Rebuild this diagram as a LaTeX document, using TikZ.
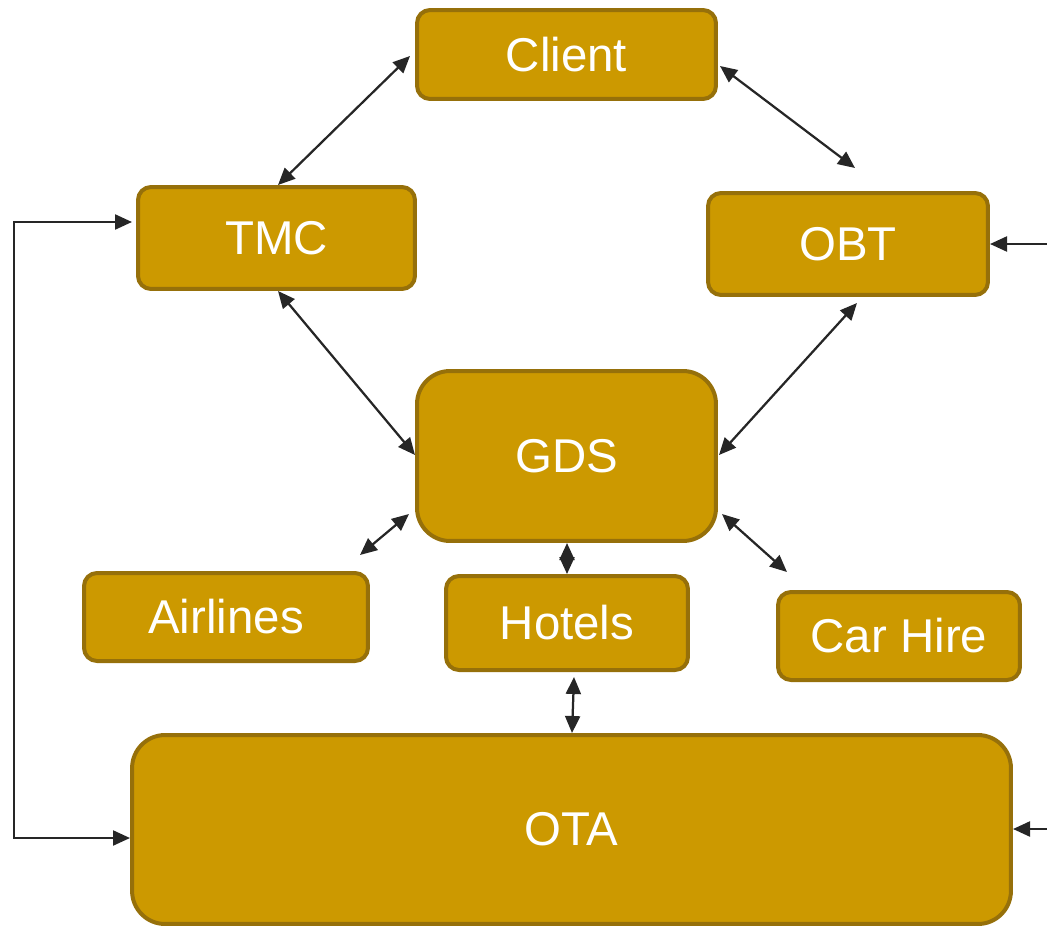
\documentclass[tikz,border=0pt]{standalone}
\usepackage{fontspec}
\setmainfont{Liberation Sans}
\usetikzlibrary{arrows.meta}
\definecolor{boxfill}{HTML}{CC9900}
\definecolor{boxborder}{HTML}{96700A}
\definecolor{arrowcol}{HTML}{262626}
\tikzset{
  box/.style={draw=boxborder, fill=boxfill, line width=0.08cm, rounded corners=0.26cm,
    text=white, font=\fontsize{27}{30}\selectfont, inner sep=0pt, anchor=center},
  bigbox/.style={box, rounded corners=0.66cm},
  conn/.style={draw=arrowcol, line width=0.045cm, {Triangle[length=0.34cm,width=0.3cm]}-{Triangle[length=0.34cm,width=0.3cm]}},
  oneway/.style={draw=arrowcol, line width=0.045cm, -{Triangle[length=0.34cm,width=0.3cm]}}
}
\begin{document}
\begin{tikzpicture}[x=0.02cm,y=-0.02cm]
\useasboundingbox (0,0) rectangle (1047,926);
\node[box, minimum width=5.98cm, minimum height=1.78cm] (client) at (566.5,54.5) {Client};
\node[box, minimum width=5.54cm, minimum height=2.04cm] (tmc) at (276.5,238) {TMC};
\node[box, minimum width=5.60cm, minimum height=2.04cm] (obt) at (848,244) {OBT};
\node[bigbox, minimum width=5.98cm, minimum height=3.40cm] (gds) at (566.5,456) {GDS};
\node[box, minimum width=5.68cm, minimum height=1.76cm] (airlines) at (226,617) {Airlines};
\node[box, minimum width=4.84cm, minimum height=1.88cm] (hotels) at (567,623) {Hotels};
\node[box, minimum width=4.84cm, minimum height=1.76cm] (carhire) at (899,636) {Car Hire};
\node[bigbox, minimum width=17.58cm, minimum height=3.78cm] (ota) at (571.5,829.5) {OTA};

% endpoints with gaps
\coordinate (clientL) at (410,56);
\coordinate (tmcT) at (278,185);
\coordinate (clientR) at (720,66);
\coordinate (obtT) at (855,168);
\coordinate (tmcB) at (278,291);
\coordinate (gdsL) at (415,455);
\coordinate (obtB) at (857,303);
\coordinate (gdsR) at (719,455);
\coordinate (gdsLL) at (409,514);
\coordinate (airT) at (360,555);
\coordinate (gdsB) at (567,543);
\coordinate (hotT) at (567,574);
\coordinate (gdsRR) at (722,514);
\coordinate (carT) at (787,572);
\coordinate (hotB) at (574,677);
\coordinate (otaT) at (572,733);
\coordinate (tmcW) at (132,222);
\coordinate (otaW) at (130,838);
\coordinate (obtIn) at (1047,244);
\coordinate (obtE) at (990,244);
\coordinate (otaIn) at (1047,829);
\coordinate (otaE) at (1013,829);

\draw[conn] (clientL) -- (tmcT);
\draw[conn] (clientR) -- (obtT);
\draw[conn] (tmcB) -- (gdsL);
\draw[conn] (obtB) -- (gdsR);
\draw[conn] (gdsLL) -- (airT);
\draw[conn] (gdsB) -- (hotT);
\draw[conn] (gdsRR) -- (carT);
\draw[conn] (hotB) -- (otaT);
\draw[conn] (tmcW) -| (14,530) |- (otaW);
\draw[oneway] (obtIn) -- (obtE);
\draw[oneway] (otaIn) -- (otaE);
\end{tikzpicture}
\end{document}
